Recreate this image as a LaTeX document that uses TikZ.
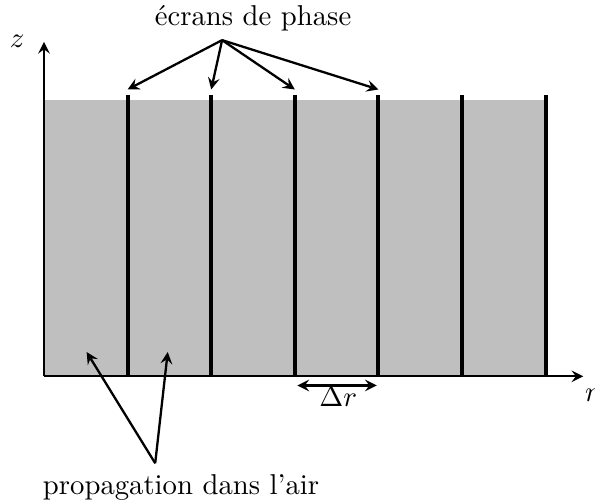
\documentclass[tikz,border=0pt]{standalone}
\begin{document}
\begin{tikzpicture}[x=1.024cm, y=1.024cm, >=stealth]
    \useasboundingbox (-0.526,-1.483) rectangle (6.59,4.50);
    % air slabs between the phase screens
    \fill[black!25] (0,0) rectangle (6,3.3);

    \coordinate (O) at (0,0);
    \coordinate (rend) at (6.45,0);
    \coordinate (zend) at (0,4);
    \draw[thick,->] (O) -- (rend);
    \draw[thick,->] (O) -- (zend);
    \node (z) at (-0.32,4.0) {$z$};
    \node (r) at (6.555,-0.23) {$r$};

    \foreach \k in {1,...,6} {
      \coordinate (bot\k) at (\k,0);
      \coordinate (top\k) at (\k,3.36);
      \draw[line width=1.4pt] (bot\k) -- (top\k);
    }

    \node (ecrans) at (2.5,4.28) {écrans de phase};
    \coordinate (ecransfrom) at (2.13,4.02);
    \foreach \k in {1,...,4} {
      \coordinate (hit\k) at (\k,3.43);
      \draw[thick,->] (ecransfrom) -- (hit\k);
    }

    \coordinate (dra) at (3.03,-0.11);
    \coordinate (drb) at (3.98,-0.11);
    \draw[thick,<->] (dra) -- (drb);
    \node (dr) at (3.52,-0.25) {$\Delta r$};

    \node (air) at (1.64,-1.33) {propagation dans l'air};
    \coordinate (airfrom) at (1.33,-1.04);
    \coordinate (aira) at (0.51,0.29);
    \coordinate (airb) at (1.48,0.29);
    \draw[thick,->] (airfrom) -- (aira);
    \draw[thick,->] (airfrom) -- (airb);
\end{tikzpicture}
\end{document}
